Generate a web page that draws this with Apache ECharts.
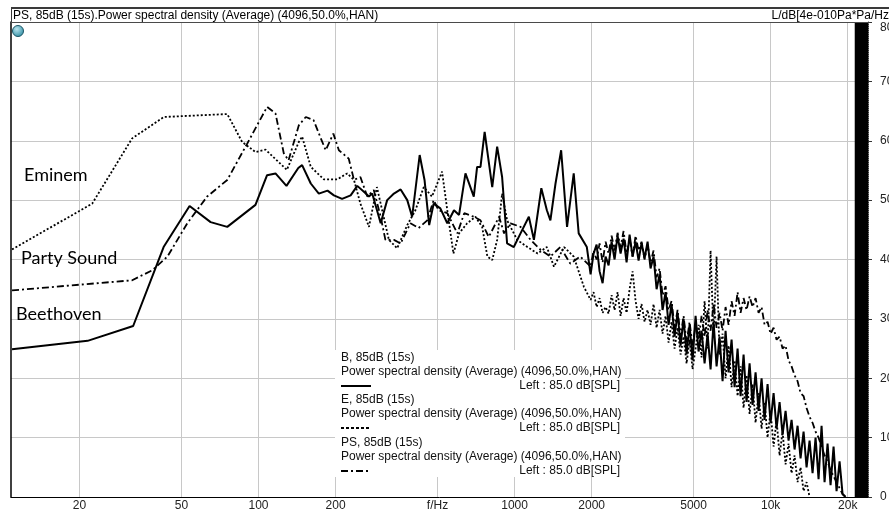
<!DOCTYPE html>
<html><head><meta charset="utf-8">
<script src="https://cdn.jsdelivr.net/npm/echarts@6/dist/echarts.min.js"></script>
<style>html,body{margin:0;padding:0;background:#fff}#c{width:889px;height:513px}</style>
</head><body><div id="c"></div>
<script>
// ---- axis ticks ----
const xTickValues = [20, 50, 100, 200, 500, 1000, 2000, 5000, 10000, 20000];
const xTickLabels = ['20', '50', '100', '200', 'f/Hz', '1000', '2000', '5000', '10k', '20k'];
const yMin = 0, yMax = 80, yStep = 10;
const xMin = 10.8, xMax = 24000;
const nyquistBand = [21300, 24000];

// ---- series names ----
const seriesNames = ['B, 85dB (15s)', 'E, 85dB (15s)', 'PS, 85dB (15s)'];

// ---- low / mid frequency readings (Hz, dB) ----
const beethovenFreq = [10.9, 21.5, 32.4, 42.6, 53.8, 65, 75.5, 97.3, 108, 116.5, 128.6, 143,
  148, 160, 172, 186, 197, 212, 229, 243, 258, 270, 278, 300, 318, 338, 359, 381, 398, 426, 445, 464, 483,
  513, 546, 580, 607, 643, 693, 714, 736, 764, 818, 855, 894, 935, 993, 1055, 1137, 1190, 1272, 1337, 1380,
  1445, 1520, 1603, 1702, 1780, 1915];
const beethovenDb = [24.9, 26.3, 28.8, 42.1, 49.0, 46.3, 45.5, 49.2, 54.2, 54.5, 52.4, 55.4,
  55.9, 52.8, 51.1, 51.6, 50.8, 50.2, 50.8, 52.4, 51.4, 50.6, 51.1, 46.1, 50.0, 51.1, 51.8, 50.0, 47.2, 57.6, 53.4, 45.8, 49.4,
  48.6, 46.1, 48.3, 47.5, 54.5, 50.6, 55.6, 55.6, 61.5, 52.2, 59.0, 53.9, 42.7, 42.1, 44.4, 47.2, 43.3, 52.0, 48.3, 46.6,
  52.8, 58.4, 45.5, 54.5, 44.4, 42.1];

const eminemFreq = [10.9, 22.4, 32.1, 42.7, 75.5, 86.3, 97.3, 106.5, 129, 143.7,
  148, 160, 180, 203, 222, 236, 250, 270, 290, 304, 323, 348, 381, 410, 442, 476, 521, 546, 577, 607,
  653, 703, 747, 783, 818, 855, 894, 935, 1024, 1122, 1230, 1337, 1425, 1560, 1702, 1865];
const eminemDb = [41.7, 49.4, 60.4, 64.0, 64.5, 59.8, 58.1, 58.5, 55.1, 59.8,
  60.7, 55.6, 53.5, 53.5, 54.5, 53.4, 49.4, 45.5, 52.2, 48.3, 43.3, 41.9, 45.8, 48.3, 52.2, 50.6, 54.8, 48.3, 41.0, 44.4,
  46.1, 47.2, 45.5, 40.5, 39.9, 43.3, 51.1, 46.6, 43.3, 42.1, 41.0, 42.1, 38.8, 42.1, 40.5, 35.4];

const partyFreq = [10.9, 32.1, 38.5, 44.1, 52.7, 63.0, 75.5, 90.3, 108, 116.5, 125.5, 131, 143.7,
  153, 164, 174, 183, 196, 206, 225, 236, 250, 266, 282, 300, 313, 338, 359, 392, 422, 456, 483, 505,
  546, 598, 636, 693, 736, 793, 870, 910, 964, 1055, 1155, 1265, 1380, 1510, 1650, 1805];
const partyDb = [34.8, 36.5, 38.2, 40.5, 46.1, 50.6, 53.4, 59.5, 65.7, 64.6, 57.9, 56.7, 62.6,
  64.0, 63.5, 60.7, 58.4, 61.2, 58.4, 57.0, 53.4, 53.9, 50.6, 51.7, 47.2, 43.3, 43.3, 42.7, 46.1, 45.3, 46.6, 50.0, 48.3,
  47.8, 44.4, 47.8, 47.2, 46.6, 43.8, 47.2, 44.4, 46.1, 45.5, 43.3, 41.6, 40.5, 42.1, 39.3, 40.5];

// ---- high frequency readings on a shared frequency list (Hz) ----
const hfFreq = [1981, 2035, 2091, 2148, 2207, 2267, 2329, 2393, 2458, 2525,
  2594, 2665, 2738, 2813, 2890, 2969, 3050, 3133, 3219, 3307,
  3397, 3490, 3586, 3684, 3784, 3888, 3994, 4103, 4215, 4331,
  4449, 4571, 4696, 4824, 4956, 5092, 5231, 5374, 5521, 5672,
  5827, 5986, 6150, 6318, 6491, 6668, 6851, 7038, 7231, 7428,
  7631, 7840, 8054, 8275, 8501, 8733, 8972, 9217, 9469, 9728,
  9994, 10268, 10548, 10837, 11133, 11437, 11750, 12071, 12401, 12740,
  13088, 13446, 13814, 14191, 14579, 14978, 15387, 15808, 16240, 16684,
  17140, 17609, 18090, 18585, 19093, 19615];
const beethovenHfDb = [37.5, 41, 42.5, 38, 36, 40.5, 39, 43, 40, 44,
  41, 43.5, 39.5, 44.2, 40.5, 43, 39.8, 42.8, 40.2, 43,
  38.5, 40.5, 35, 37.5, 31.5, 34.5, 29, 32.5, 27, 31,
  25.5, 30, 24, 29, 23, 30.5, 24.5, 28, 22.5, 27.5,
  21.5, 29.5, 22, 27, 19.5, 28, 21, 26.5, 18.5, 25,
  17, 24, 16, 22.5, 15.5, 21, 14.5, 20, 13, 19,
  12.5, 17.5, 11.5, 16, 10.5, 14.5, 9.5, 13, 8, 12,
  6.5, 11, 5, 9.5, 4, 10, 3, 12, 2.5, 9,
  2, 8.5, 1, 6, 0.5, 0];
const eminemHfDb = [33.2, 34.5, 32, 33.5, 31, 32, 30.9, 34, 31.5, 34.5,
  30.5, 33.5, 31, 35, 38, 33, 30, 32.5, 29.5, 31.5,
  29, 32.5, 28.5, 31.5, 27.5, 30.5, 26, 29.5, 25, 28.5,
  24, 27, 22.5, 26.5, 21.5, 25, 29, 23.5, 33, 25,
  41.5, 27, 40.5, 24, 27.5, 20, 25.5, 18.5, 23, 17,
  22, 15, 20.5, 14, 19, 12.5, 17.5, 11.5, 16, 10,
  14.5, 8.5, 13, 7, 11, 5.5, 9, 4, 7, 2.5,
  5, 1, 2.5, 0];
const partyHfDb = [38.8, 41.5, 40, 42.7, 39.5, 43, 41, 44, 41.5, 44.5,
  42, 44.8, 41, 43.5, 40.5, 44, 41.5, 43, 40, 42.5,
  39.5, 41.5, 37, 38.5, 34, 35.5, 31.5, 33, 28.5, 31.5,
  27, 30.5, 26, 29.5, 25.5, 29, 26.5, 30.5, 27, 31.5,
  28, 32.5, 28.5, 31, 28, 32, 29, 33, 30.5, 34.5,
  31, 33.5, 31.5, 33.8, 32, 33.5, 31, 32, 29, 29.5,
  27.5, 28.5, 26.5, 27, 25, 25.5, 23, 22, 20.5, 19.5,
  17.5, 17, 15, 13.5, 12.5, 11, 10, 8.5, 7, 6,
  4.5, 3.5, 2.5, 1.5, 0.5, 0];

function build(freq, db, hfDb) {
  const out = freq.map((f, i) => [f, db[i]]);
  hfDb.forEach((v, i) => out.push([hfFreq[i], v]));
  return out;
}

const chart = echarts.init(document.getElementById('c'), null, {renderer: 'canvas'});
const txt = '#111';
const font = '"Liberation Sans", Arial, sans-serif';

const legendLines = [
  {name: seriesNames[0], y: 358, dash: null},
  {name: seriesNames[1], y: 400, dash: [3, 2]},
  {name: seriesNames[2], y: 443, dash: [7, 3, 2, 3]}
];
const graphics = [
  // header
  {type: 'rect', shape: {x: 11, y: 7, width: 878, height: 2}, style: {fill: '#3a3a3a'}, z: 50},
  {type: 'rect', shape: {x: 11, y: 7, width: 1, height: 16}, style: {fill: '#3a3a3a'}, z: 50},
  {type: 'rect', shape: {x: 11, y: 22, width: 857, height: 1}, style: {fill: '#4a4a4a'}, z: 50},
  {type: 'text', x: 13, y: 16, style: {text: 'PS, 85dB (15s).Power spectral density (Average) (4096,50.0%,HAN)', font: '12px ' + font, fill: '#000', textVerticalAlign: 'middle'}, z: 50},
  {type: 'text', x: 889, y: 16, style: {text: 'L/dB[4e-010Pa*Pa/Hz', font: '12px ' + font, fill: '#000', textAlign: 'right', textVerticalAlign: 'middle'}, z: 50},
  {type: 'circle', shape: {cx: 18, cy: 31, r: 5.5}, style: {fill: new echarts.graphic.RadialGradient(0.4, 0.35, 0.7, [{offset: 0, color: '#b8e4ee'}, {offset: 1, color: '#2b8aa0'}]), stroke: '#1d5666', lineWidth: 1}, z: 50},
  // annotations
  {type: 'text', x: 24, y: 175, style: {text: 'Eminem', font: '18px Lato, "Open Sans", sans-serif', fill: '#000', textVerticalAlign: 'middle'}, z: 50},
  {type: 'text', x: 21, y: 258, style: {text: 'Party Sound', font: '18px Lato, "Open Sans", sans-serif', fill: '#000', textVerticalAlign: 'middle'}, z: 50},
  {type: 'text', x: 16, y: 314, style: {text: 'Beethoven', font: '18px Lato, "Open Sans", sans-serif', fill: '#000', textVerticalAlign: 'middle'}, z: 50},
  // legend box
  {type: 'rect', shape: {x: 335, y: 350, width: 290, height: 127}, style: {fill: '#fff'}, z: 40}
];
legendLines.forEach(l => {
  graphics.push({type: 'text', x: 341, y: l.y, style: {text: l.name, font: '12px ' + font, fill: txt, textVerticalAlign: 'middle'}, z: 50});
  graphics.push({type: 'text', x: 341, y: l.y + 14, style: {text: 'Power spectral density (Average) (4096,50.0%,HAN)', font: '12px ' + font, fill: txt, textVerticalAlign: 'middle'}, z: 50});
  graphics.push({type: 'text', x: 620, y: l.y + 28, style: {text: 'Left : 85.0 dB[SPL]', font: '12px ' + font, fill: txt, textAlign: 'right', textVerticalAlign: 'middle'}, z: 50});
  graphics.push({type: 'line', shape: {x1: 341, y1: l.y + 28, x2: 371, y2: l.y + 28}, style: {stroke: '#000', lineWidth: 2, lineDash: l.dash || null}, z: 50});
});

const lineSeries = (name, data, dash, w) => ({
  name, type: 'line', data, showSymbol: false, symbol: 'none', z: 5, animation: false,
  lineStyle: {color: '#000', width: w, type: dash || 'solid'}
});

chart.setOption({
  animation: false,
  backgroundColor: '#fff',
  grid: {left: 11, right: 21, top: 22, bottom: 16, containLabel: false, outerBoundsMode: 'none'},
  xAxis: {
    type: 'log', logBase: 10, min: xMin, max: xMax,
    axisLine: {show: true, onZero: false, lineStyle: {color: '#000', width: 1}},
    axisTick: {show: false},
    splitLine: {show: false},
    minorSplitLine: {show: false},
    axisLabel: {
      customValues: xTickValues, margin: 3, color: '#222', fontSize: 12, fontFamily: font,
      formatter: v => { const i = xTickValues.findIndex(t => Math.abs(t - v) / t < 1e-6); return i >= 0 ? xTickLabels[i] : ''; }
    }
  },
  yAxis: [{
    type: 'value', position: 'right', min: yMin, max: yMax, interval: yStep,
    axisLine: {show: true, lineStyle: {color: '#333', type: 'dotted'}},
    axisTick: {show: true, length: 4, lineStyle: {color: '#333'}},
    splitLine: {show: true, lineStyle: {color: '#c8c8c8', width: 1}},
    axisLabel: {margin: 12, color: '#222', fontSize: 12, fontFamily: font, verticalAlignMaxLabel: 'top'}
  }, {
    type: 'value', position: 'left', min: yMin, max: yMax, interval: yStep,
    axisLine: {show: true, lineStyle: {color: '#000', width: 1.5}},
    axisTick: {show: false}, axisLabel: {show: false}, splitLine: {show: false}
  }],
  graphic: graphics,
  series: [
    {
      type: 'line', data: [], z: 1, silent: true,
      markLine: {
        silent: true, symbol: 'none', animation: false, label: {show: false},
        lineStyle: {color: '#c8c8c8', width: 1, type: 'solid'},
        data: xTickValues.map(v => ({xAxis: v}))
      },
      markArea: {
        silent: true, itemStyle: {color: '#000'},
        data: [[{xAxis: nyquistBand[0]}, {xAxis: nyquistBand[1]}]]
      }
    },
    lineSeries(seriesNames[0], build(beethovenFreq, beethovenDb, beethovenHfDb), 'solid', 2),
    lineSeries(seriesNames[1], build(eminemFreq, eminemDb, eminemHfDb), [2, 2], 1.8),
    lineSeries(seriesNames[2], build(partyFreq, partyDb, partyHfDb), [7, 3, 2, 3], 1.8)
  ]
});
</script></body></html>
